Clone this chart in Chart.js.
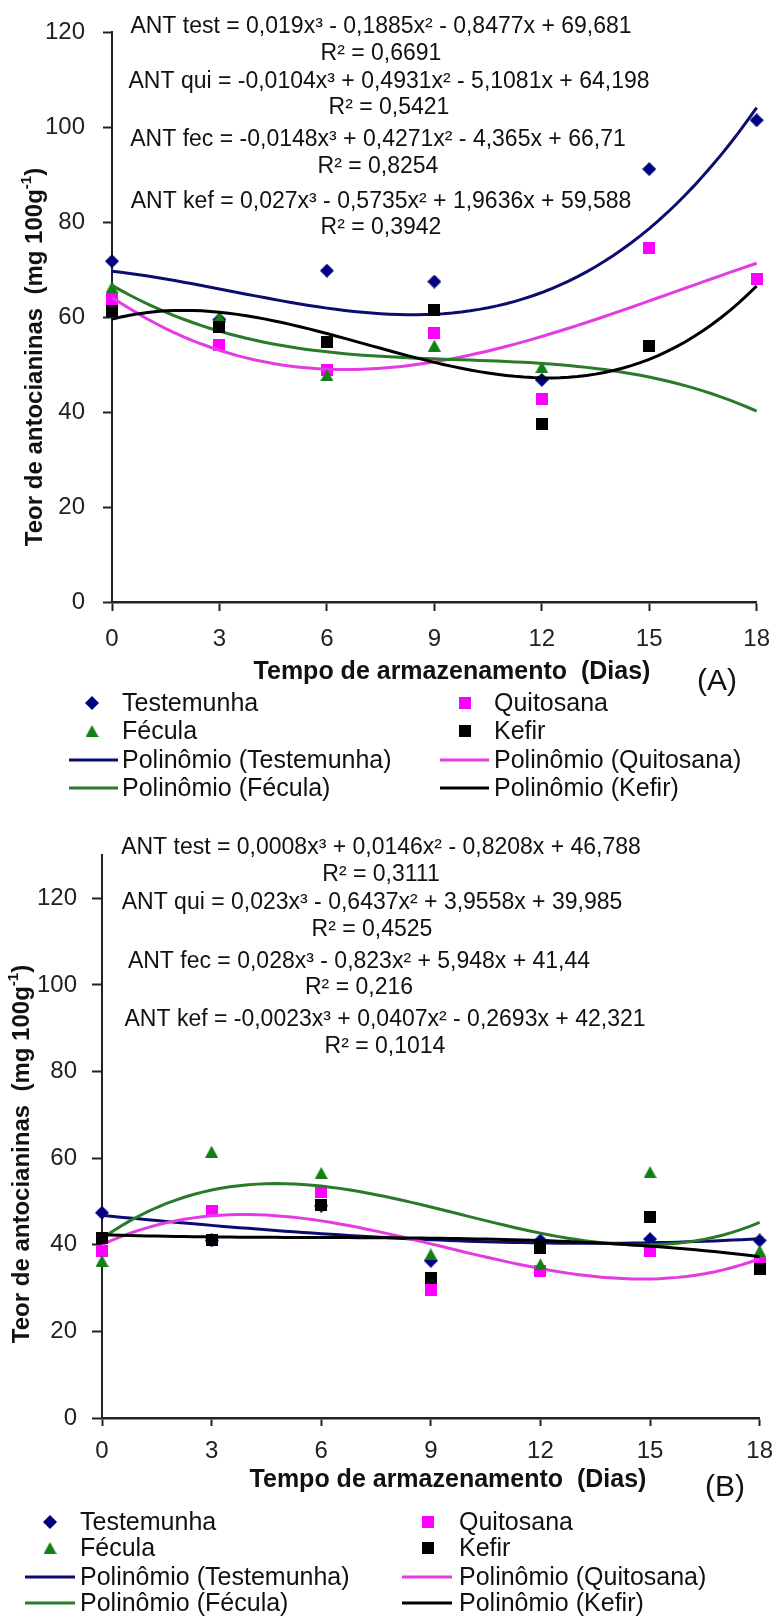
<!DOCTYPE html>
<html>
<head>
<meta charset="utf-8">
<script src="https://cdn.jsdelivr.net/npm/chart.js@4.4.1/dist/chart.umd.min.js"></script>
<style>
  body { margin: 0; background: #fff; }
  .panel { position: absolute; left: 0; width: 784px; height: 812px; }
</style>
</head>
<body>
<div class="panel" style="top:0"><canvas id="chartA" width="784" height="812"></canvas></div>
<div class="panel" style="top:812px"><canvas id="chartB" width="784" height="812"></canvas></div>
<script>
// storage days on the x axis
const days = [0, 3, 6, 9, 12, 15, 18];
const seriesNames = ['Testemunha', 'Quitosana', 'Fécula', 'Kefir'];
const yTicksA = [0, 20, 40, 60, 80, 100, 120];
const yTicksB = [0, 20, 40, 60, 80, 100, 120];

// anthocyanin content (mg 100g-1), panel A
const testA = [71.8, 59.5, 69.8, 67.5, 46.8, 91.2, 101.5];
const quiA  = [63.8, 54.2, 48.9, 56.7, 42.8, 74.5, 68.0];
const fecA  = [66.3, 60.0, 47.8, 54.0, 49.5, null, null];
const kefA  = [61.4, 58.0, 54.8, 61.5, 37.4, 53.9, null];

// panel B
const testB = [47.4, 41.0, 49.0, 36.3, 41.0, 41.3, 41.0];
const quiB  = [38.6, 47.8, 52.2, 29.5, 34.0, 38.6, 35.9];
const fecB  = [36.3, 61.5, 56.6, 37.8, 35.5, 56.8, 38.6];
const kefB  = [41.5, 41.1, 49.1, 32.4, 39.2, 46.4, 34.3];

// cubic trendline coefficients [x^3, x^2, x, const] and R2, as printed on the charts
const coefTestA = [0.019, -0.1885, -0.8477, 69.681];
const coefQuiA  = [-0.0104, 0.4931, -5.1081, 64.198];
const coefFecA  = [-0.0148, 0.4271, -4.365, 66.71];
const coefKefA  = [0.027, -0.5735, 1.9636, 59.588];
const r2A = ['0,6691', '0,5421', '0,8254', '0,3942'];

const coefTestB = [0.0008, 0.0146, -0.8208, 46.788];
const coefQuiB  = [0.023, -0.6437, 3.9558, 39.985];
const coefFecB  = [0.028, -0.823, 5.948, 41.44];
const coefKefB  = [-0.0023, 0.0407, -0.2693, 42.321];
const r2B = ['0,3111', '0,4525', '0,216', '0,1014'];

const eqPrefix = ['ANT test', 'ANT qui', 'ANT fec', 'ANT kef'];

const FONT = "'Liberation Sans', Arial, sans-serif";

// marker bitmaps used as point styles
function makeMarker(shape, color, w, h) {
    const c = document.createElement('canvas');
    c.width = w;
    c.height = h;
    const g = c.getContext('2d');
    g.fillStyle = color;
    g.beginPath();
    if (shape === 'diamond') {
        g.moveTo(w / 2, 0); g.lineTo(w, h / 2); g.lineTo(w / 2, h); g.lineTo(0, h / 2);
    } else if (shape === 'triangle') {
        g.moveTo(w / 2, 0); g.lineTo(w, h); g.lineTo(0, h);
    } else {
        g.rect(0, 0, w, h);
    }
    g.closePath();
    g.fill();
    return c;
}

const markerColors = ['#000080', '#ff00ff', '#138013', '#000000'];
const markers = [
    makeMarker('diamond', markerColors[0], 14, 14),
    makeMarker('square', markerColors[1], 12, 12),
    makeMarker('triangle', markerColors[2], 13, 12),
    makeMarker('square', markerColors[3], 12, 12),
];
const trendColors = ['#0c0c6e', '#e23ce2', '#2a7a2a', '#000000'];

// number formatting like the chart labels: comma decimals
function fmt(v) {
    return String(Math.abs(v)).replace('.', ',');
}

function equationText(prefix, c) {
    const sign = v => (v < 0 ? ' - ' : ' + ');
    let s = prefix + ' = ' + (c[0] < 0 ? '-' : '') + fmt(c[0]) + 'x³';
    s += sign(c[1]) + fmt(c[1]) + 'x²';
    s += sign(c[2]) + fmt(c[2]) + 'x';
    s += sign(c[3]) + fmt(c[3]);
    return s;
}

// sample the printed polynomial along the day axis
function trendPoints(c) {
    const pts = [];
    for (let x = 0; x <= 18.0001; x += 0.25) {
        pts.push({ x: x, y: c[0] * x * x * x + c[1] * x * x + c[2] * x + c[3] });
    }
    return pts;
}

function toPoints(values) {
    return days.map((d, i) => ({ x: d, y: values[i] })).filter(p => p.y !== null);
}

// layout of each panel inside its 784x812 canvas
const panelA = {
    id: 'chartA', letter: '(A)', yMax: 120, yTicks: yTicksA,
    left: 112, right: 15, top: 32, xAxisHeight: 210,
    yTickPad: 18, yTickLen: 9, xTickPad: 14, xTickLen: 9,
    eqY: [27, 54, 82, 108, 140, 167, 202, 228], eqX: [381, 389, 378, 381],
    yTitle: { x: 35, y: 357 },
    xTitle: { x: 452, y: 672 }, letterPos: { x: 717, y: 682 },
    legend: { rows: [703, 731, 760, 788], marker: [92, 465], text: [122, 494], line: [[69, 118], [440, 489]] },
    series: [testA, quiA, fecA, kefA],
    coefs: [coefTestA, coefQuiA, coefFecA, coefKefA], r2: r2A,
};
const panelB = {
    id: 'chartB', letter: '(B)', yMax: 130, yTicks: yTicksB,
    left: 102, right: 19, top: 43, xAxisHeight: 206,
    yTickPad: 15, yTickLen: 10, xTickPad: 11, xTickLen: 8,
    eqY: [36, 63, 91, 118, 150, 176, 208, 235], eqX: [381, 372, 359, 385],
    yTitle: { x: 22, y: 342 },
    xTitle: { x: 448, y: 668 }, letterPos: { x: 725, y: 676 },
    legend: { rows: [710, 736, 765, 791], marker: [50, 428], text: [80, 459], line: [[25, 75], [402, 452]] },
    series: [testB, quiB, fecB, kefB],
    coefs: [coefTestB, coefQuiB, coefFecB, coefKefB], r2: r2B,
};

// text, legend and axis titles drawn on top of the chart
const annotations = {
    id: 'annotations',
    afterDraw(chart, args, p) {
        const ctx = chart.ctx;
        ctx.save();
        ctx.fillStyle = '#111';
        ctx.textBaseline = 'middle';

        // trendline equations and R2
        ctx.font = '23px ' + FONT;
        ctx.textAlign = 'center';
        for (let i = 0; i < 4; i++) {
            ctx.fillText(equationText(eqPrefix[i], p.coefs[i]), p.eqX[i], p.eqY[2 * i]);
            ctx.fillText('R² = ' + p.r2[i], p.eqX[i], p.eqY[2 * i + 1]);
        }

        // axis titles
        ctx.font = 'bold 25px ' + FONT;
        ctx.fillText('Tempo de armazenamento  (Dias)', p.xTitle.x, p.xTitle.y);
        ctx.font = '30px ' + FONT;
        ctx.fillText(p.letter, p.letterPos.x, p.letterPos.y);

        // rotated y title with the superscript unit
        ctx.save();
        ctx.translate(p.yTitle.x, p.yTitle.y);
        ctx.rotate(-Math.PI / 2);
        ctx.textAlign = 'left';
        const big = 'bold 24px ' + FONT, small = 'bold 15px ' + FONT;
        const partA = 'Teor de antocianinas  (mg 100g', sup = '-1', partC = ')';
        ctx.font = big;
        const wA = ctx.measureText(partA).width, wC = ctx.measureText(partC).width;
        ctx.font = small;
        const wS = ctx.measureText(sup).width;
        const x0 = -(wA + wS + wC) / 2;
        ctx.font = big;
        ctx.fillText(partA, x0, 0);
        ctx.font = small;
        ctx.fillText(sup, x0 + wA, -8);
        ctx.font = big;
        ctx.fillText(partC, x0 + wA + wS, 0);
        ctx.restore();

        // legend: two columns, filled row by row
        ctx.font = '25px ' + FONT;
        ctx.textAlign = 'left';
        const lg = p.legend;
        chart.data.datasets.slice().sort((a, b) => a.legendSlot - b.legendSlot).forEach(ds => {
            const slot = ds.legendSlot;
            const col = slot % 2, row = Math.floor(slot / 2);
            const y = lg.rows[row];
            if (ds.showLine) {
                ctx.strokeStyle = ds.borderColor;
                ctx.lineWidth = 3;
                ctx.beginPath();
                ctx.moveTo(lg.line[col][0], y);
                ctx.lineTo(lg.line[col][1], y);
                ctx.stroke();
            } else {
                Chart.helpers.drawPoint(ctx, { pointStyle: ds.pointStyle, radius: 6, rotation: 0, borderWidth: 0 }, lg.marker[col], y);
            }
            ctx.fillStyle = '#111';
            ctx.fillText(ds.label, lg.text[col], y + 1);
        });
        ctx.restore();
    }
};

function draw(p) {
    const datasets = [];
    // each series' markers then its trendline, later series on top
    seriesNames.forEach((name, i) => {
        datasets.push({
            label: name,
            data: toPoints(p.series[i]),
            pointStyle: markers[i],
            pointRadius: 7,
            pointHoverRadius: 7,
            backgroundColor: markerColors[i],
            borderColor: markerColors[i],
            showLine: false,
            clip: false,
            order: 8 - 2 * i,
            legendSlot: i,
        });
        datasets.push({
            label: 'Polinômio (' + name + ')',
            data: trendPoints(p.coefs[i]),
            borderColor: trendColors[i],
            backgroundColor: trendColors[i],
            borderWidth: 3,
            pointRadius: 0,
            showLine: true,
            tension: 0,
            clip: false,
            order: 7 - 2 * i,
            legendSlot: 4 + i,
        });
    });

    new Chart(document.getElementById(p.id), {
        type: 'scatter',
        data: { datasets },
        options: {
            responsive: false,
            animation: false,
            devicePixelRatio: 1,
            layout: { padding: { left: 0, right: p.right, top: p.top, bottom: 0 } },
            plugins: {
                legend: { display: false },
                tooltip: { enabled: false },
                annotations: p,
            },
            scales: {
                x: {
                    type: 'linear', min: 0, max: 18,
                    ticks: { stepSize: 3, color: '#222', font: { family: FONT, size: 24 }, padding: p.xTickPad, maxRotation: 0 },
                    grid: { drawOnChartArea: false, tickLength: p.xTickLen, tickWidth: 2, tickColor: '#222' },
                    border: { color: '#222', width: 2.5 },
                    afterFit(s) { s.height = p.xAxisHeight; },
                },
                y: {
                    min: 0, max: p.yMax,
                    ticks: { stepSize: 20, color: '#222', font: { family: FONT, size: 24 }, padding: p.yTickPad },
                    afterBuildTicks(s) { s.ticks = p.yTicks.map(v => ({ value: v })); },
                    grid: { drawOnChartArea: false, tickLength: p.yTickLen, tickWidth: 2, tickColor: '#222' },
                    border: { color: '#222', width: 2 },
                    afterFit(s) { s.width = p.left; },
                },
            },
        },
        plugins: [annotations],
    });
}

draw(panelA);
draw(panelB);
</script>
</body>
</html>
